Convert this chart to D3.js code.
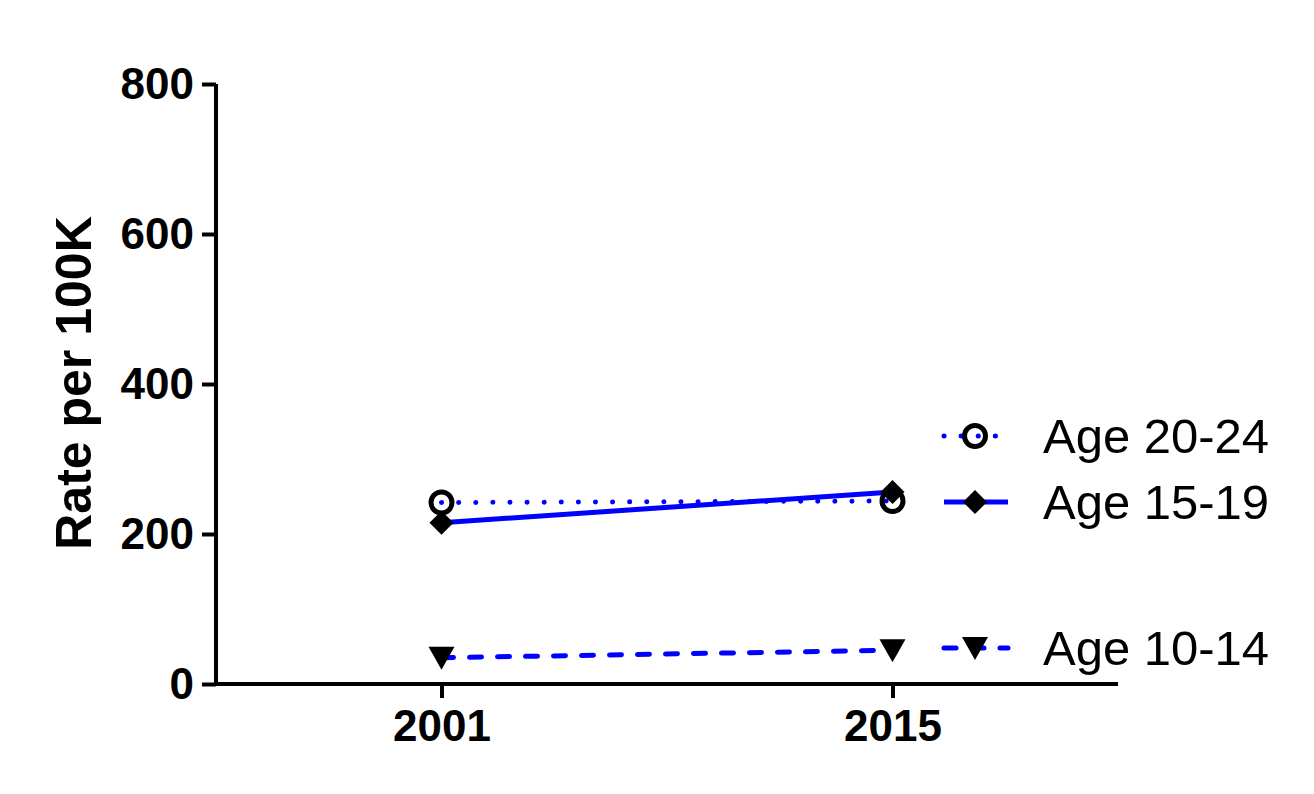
<!DOCTYPE html>
<html>
<head>
<meta charset="utf-8">
<script src="https://cdn.jsdelivr.net/npm/d3@7"></script>
<style>
  body { margin: 0; background: #fff; }
  text { font-family: "Liberation Sans", Arial, sans-serif; }
</style>
</head>
<body>
<div id="chart"></div>
<script>
// data
const years = [2001, 2015]
const age2024 = [242, 244]
const age1519 = [215, 256]
const age1014 = [35, 45]
const yTicks = [0, 200, 400, 600, 800]
const seriesNames = ["Age 20-24", "Age 15-19", "Age 10-14"]

const width = 1314, height = 794
const blue = "#0000ff"

const svg = d3.select("#chart").append("svg")
  .attr("width", width)
  .attr("height", height)

const x = d3.scaleLinear().domain([1994, 2022]).range([216, 1118])
const y = d3.scaleLinear().domain([0, 800]).range([684, 84])

// axes
const yAxis = svg.append("g")
  .attr("transform", "translate(216,0)")
  .call(d3.axisLeft(y).tickValues(yTicks).tickSize(14).tickPadding(8).tickFormat(d3.format("d")))
const xAxis = svg.append("g")
  .attr("transform", "translate(0,684)")
  .call(d3.axisBottom(x).tickValues(years).tickSize(14).tickPadding(12).tickFormat(d3.format("d")))

svg.selectAll(".domain").attr("stroke", "#000").attr("stroke-width", 4)
svg.selectAll(".tick line").attr("stroke", "#000").attr("stroke-width", 4)
svg.selectAll(".tick text")
  .attr("fill", "#000")
  .style("font-size", "44px")
  .style("font-weight", "bold")
yAxis.select(".domain").attr("d", "M0,84V684")
xAxis.select(".domain").attr("d", "M216,0H1118")

svg.append("text")
  .attr("transform", "translate(91,383) rotate(-90)")
  .attr("text-anchor", "middle")
  .style("font-size", "50px")
  .style("font-weight", "bold")
  .text("Rate per 100K")

const series = [
  { name: seriesNames[0], values: age2024, dash: "0.1 17", cap: "round", marker: "circle" },
  { name: seriesNames[1], values: age1519, dash: null, cap: "butt", marker: "diamond" },
  { name: seriesNames[2], values: age1014, dash: "12 16", cap: "round", marker: "triangle" }
]

const line = d3.line().x((d, i) => x(years[i])).y(d => y(d))

function drawMarker(g, type) {
  if (type === "circle") {
    g.append("circle").attr("r", 10.5).attr("fill", "none").attr("stroke", "#000").attr("stroke-width", 5)
  } else if (type === "diamond") {
    g.append("path").attr("d", "M0,-12L12,0L0,12L-12,0Z").attr("fill", "#000")
  } else {
    g.append("path").attr("d", "M-13,-11L13,-11L0,12Z").attr("fill", "#000")
  }
}

series.forEach(s => {
  svg.append("path")
    .attr("d", line(s.values))
    .attr("fill", "none")
    .attr("stroke", blue)
    .attr("stroke-width", 5)
    .attr("stroke-linecap", s.cap)
    .attr("stroke-dasharray", s.dash)
})
series.forEach(s => {
  s.values.forEach((v, i) => {
    const g = svg.append("g").attr("transform", `translate(${x(years[i])},${y(v)})`)
    drawMarker(g, s.marker)
  })
})

// legend
const legendY = [436, 502, 648]
series.forEach((s, i) => {
  const g = svg.append("g").attr("transform", `translate(975,${legendY[i]})`)
  g.append("line")
    .attr("x1", -31).attr("x2", 33)
    .attr("stroke", blue)
    .attr("stroke-width", 5)
    .attr("stroke-linecap", s.cap)
    .attr("stroke-dasharray", s.dash)
  drawMarker(g, s.marker)
  g.append("text")
    .attr("x", 68)
    .attr("y", 17)
    .style("font-size", "49px")
    .text(s.name)
})
</script>
</body>
</html>
